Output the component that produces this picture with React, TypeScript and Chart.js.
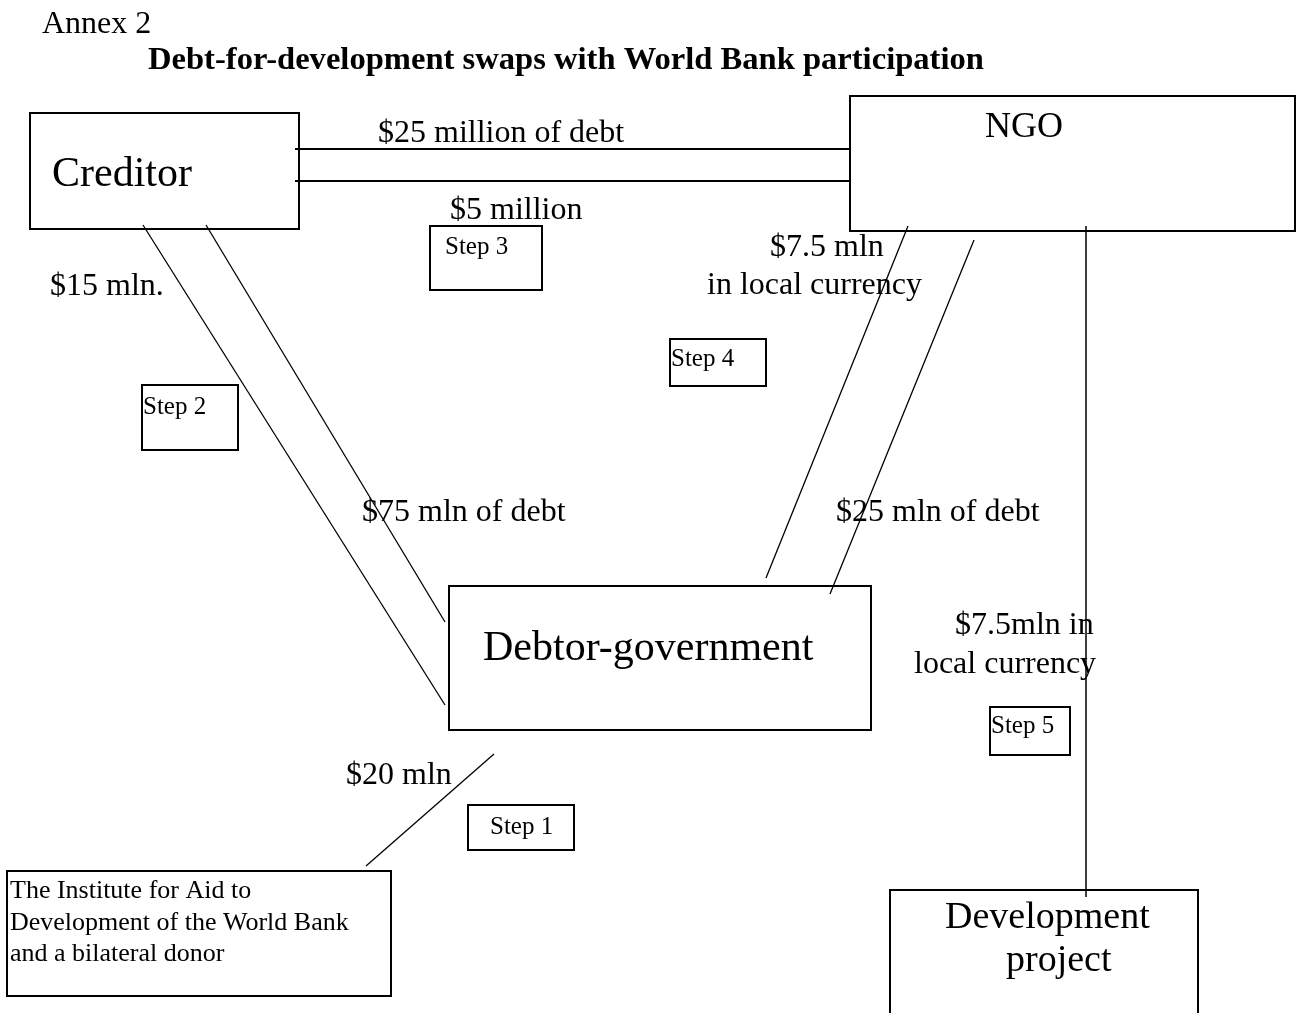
import React, { useEffect, useRef } from "react";
import { Chart, registerables } from "chart.js";

Chart.register(...registerables);

const PAGE_W = 1301;
const PAGE_H = 1013;

// Boxes: [left, top, right, bottom] in diagram units
const boxNames = ["Creditor", "NGO", "Step 3", "Step 2", "Step 4", "Debtor", "Step 5", "Step 1", "Institute", "Development project"];
const boxRects: number[][] = [
  [30, 113, 299, 229],
  [850, 96, 1295, 231],
  [430, 226, 542, 290],
  [142, 385, 238, 450],
  [670, 339, 766, 386],
  [449, 586, 871, 730],
  [990, 707, 1070, 755],
  [468, 805, 574, 850],
  [7, 871, 391, 996],
  [890, 890, 1198, 1030],
];

// Flows: [x1, y1, x2, y2]
const flowNames = ["$25 million of debt", "$5 million", "$15 mln.", "$75 mln of debt", "$7.5 mln local", "$25 mln of debt", "$7.5mln to project", "$20 mln"];
const flowLines: number[][] = [
  [295, 149, 850, 149],
  [295, 181, 850, 181],
  [143, 225, 445, 705],
  [206, 225, 445, 622],
  [908, 226, 766, 578],
  [974, 240, 830, 594],
  [1086, 226, 1086, 897],
  [494, 754, 366, 866],
];
const flowWidths = [2, 2, 1.3, 1.3, 1.3, 1.3, 1.5, 1.3];

// Text labels
const labelTexts = [
  "Annex 2",
  "Debt-for-development swaps with World Bank participation",
  "Creditor",
  "NGO",
  "$25 million of debt",
  "$5 million",
  "Step 3",
  "$15 mln.",
  "$7.5 mln",
  "in local currency",
  "Step 4",
  "Step 2",
  "$75 mln of debt",
  "$25 mln of debt",
  "Debtor-government",
  "$7.5mln in",
  "local currency",
  "Step 5",
  "$20 mln",
  "Step 1",
  "The Institute for Aid to",
  "Development of the World Bank",
  "and a bilateral donor",
  "Development",
  "project",
];
const labelX = [42, 148, 52, 985, 378, 450, 445, 50, 770, 707, 671, 143, 362, 836, 483, 955, 914, 991, 346, 490, 10, 10, 10, 945, 1006];
const labelY = [25, 61, 175, 128, 134, 211, 247, 287, 248, 286, 359, 407, 513, 513, 649, 626, 665, 726, 776, 827, 891, 923, 954, 918, 961];
const labelSize = [32, 32.6, 42, 36, 32, 32, 25, 32, 32, 32, 25, 25, 32, 32, 42, 32, 32, 25, 32, 25, 26, 26, 26, 38, 38];
const labelBold = [0, 1, 0, 0, 0, 0, 0, 0, 0, 0, 0, 0, 0, 0, 0, 0, 0, 0, 0, 0, 0, 0, 0, 0, 0];

const textPlugin = {
  id: "diagramText",
  afterDatasetsDraw(chart: any) {
    const { ctx, scales } = chart;
    const xs = scales.x;
    const ys = scales.y;
    ctx.save();
    ctx.fillStyle = "#000";
    ctx.textBaseline = "middle";
    ctx.textAlign = "left";
    labelTexts.forEach((t, i) => {
      ctx.font = `${labelBold[i] ? "bold " : ""}${labelSize[i]}px "Liberation Serif", "Times New Roman", serif`;
      ctx.fillText(t, xs.getPixelForValue(labelX[i]), ys.getPixelForValue(labelY[i]));
    });
    ctx.restore();
  },
};

export default function App() {
  const ref = useRef<HTMLCanvasElement | null>(null);

  useEffect(() => {
    if (!ref.current) return;
    const datasets: any[] = [];
    boxRects.forEach((r, i) => {
      const [l, t, rr, b] = r;
      datasets.push({
        label: boxNames[i],
        data: [
          { x: l, y: t },
          { x: rr, y: t },
          { x: rr, y: b },
          { x: l, y: b },
          { x: l, y: t },
        ],
        showLine: true,
        borderColor: "#000",
        borderWidth: 2,
        borderJoinStyle: "miter",
        borderCapStyle: "square",
        pointRadius: 0,
        fill: false,
        tension: 0,
      });
    });
    flowLines.forEach((f, i) => {
      datasets.push({
        label: flowNames[i],
        data: [
          { x: f[0], y: f[1] },
          { x: f[2], y: f[3] },
        ],
        showLine: true,
        borderColor: "#000",
        borderWidth: flowWidths[i],
        pointRadius: 0,
        fill: false,
        tension: 0,
      });
    });

    const chart = new Chart(ref.current, {
      type: "scatter",
      data: { datasets },
      options: {
        animation: false,
        responsive: true,
        maintainAspectRatio: false,
        layout: { padding: 0 },
        plugins: {
          legend: { display: false },
          tooltip: { enabled: false },
          title: { display: false },
        },
        scales: {
          x: { type: "linear", min: 0, max: PAGE_W, display: false },
          y: { type: "linear", min: 0, max: PAGE_H, reverse: true, display: false },
        },
      },
      plugins: [textPlugin],
    });
    return () => chart.destroy();
  }, []);

  return (
    <div
      style={{
        position: "absolute",
        left: 0,
        top: 0,
        width: PAGE_W,
        height: PAGE_H,
        background: "#fff",
      }}
    >
      <canvas ref={ref} />
    </div>
  );
}
